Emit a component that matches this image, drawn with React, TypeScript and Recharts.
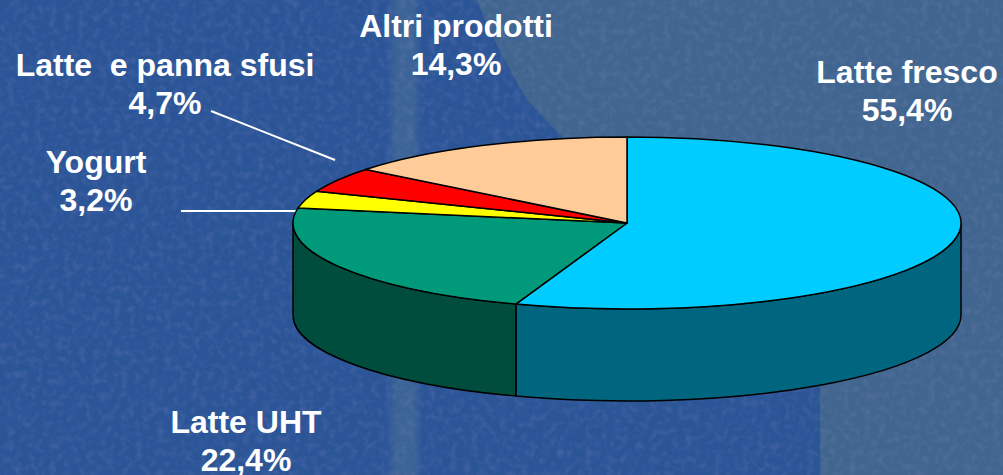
import React from 'react';
import { PieChart, Pie } from 'recharts';

const categories = ['Latte fresco', 'Latte UHT', 'Yogurt', 'Latte  e panna sfusi', 'Altri prodotti'];
const shares = [55.4, 22.4, 3.2, 4.7, 14.3];
const topColors = ['#00ccff', '#009a7b', '#ffff00', '#ff0000', '#ffcc99'];
const sideColors = ['#006680', '#004d3d', '#808000', '#800000', '#806650'];
const labelCenters = [
  [907, 83],
  [246, 433],
  [96, 173],
  [165, 76],
  [456, 37],
];

const data = categories.map((name, i) => ({ name, value: shares[i], top: topColors[i], side: sideColors[i] }));

const W = 1003;
const H = 475;
const CX = 627;
const CY = 223;
const RX = 334;
const SQUASH = 86 / 334; // pie is tilted, ry / rx
const DEPTH = 92;
const RAD = Math.PI / 180;

const px = (cx: number, r: number, deg: number) => cx + r * Math.cos(deg * RAD);
const py = (cy: number, r: number, deg: number) => cy - r * SQUASH * Math.sin(deg * RAD);

const TopSlice = (props: any) => {
  const { cx, cy, outerRadius: r, startAngle, endAngle, payload } = props;
  const large = Math.abs(endAngle - startAngle) > 180 ? 1 : 0;
  const d =
    `M${cx},${cy} L${px(cx, r, startAngle)},${py(cy, r, startAngle)} ` +
    `A${r},${r * SQUASH} 0 ${large} 1 ${px(cx, r, endAngle)},${py(cy, r, endAngle)} Z`;
  return <path d={d} fill={payload.top} stroke="#000" strokeWidth={1.5} strokeLinejoin="round" />;
};

// only the part of the rim facing the viewer (0 to -180 deg) is drawn
const SideSlice = (props: any) => {
  const { cx, cy, outerRadius: r, startAngle, endAngle, payload } = props;
  const from = Math.min(startAngle, 0);
  const to = Math.max(endAngle, -180);
  if (from <= to) return null;
  const x1 = px(cx, r, from);
  const y1 = py(cy, r, from);
  const x2 = px(cx, r, to);
  const y2 = py(cy, r, to);
  const ry = r * SQUASH;
  const d =
    `M${x1},${y1} A${r},${ry} 0 0 1 ${x2},${y2} L${x2},${y2 + DEPTH} ` +
    `A${r},${ry} 0 0 0 ${x1},${y1 + DEPTH} Z`;
  return <path d={d} fill={payload.side} stroke="#000" strokeWidth={1.5} strokeLinejoin="round" />;
};

const renderLabel = (props: any) => {
  const { index, value, name } = props;
  const [x, y] = labelCenters[index];
  return (
    <text
      key={name}
      x={x}
      y={y}
      textAnchor="middle"
      fill="#fff"
      fontFamily="'Liberation Sans', Arial, sans-serif"
      fontWeight={700}
      fontSize={32}
      style={{ whiteSpace: 'pre' }}
    >
      <tspan x={x}>{name}</tspan>
      <tspan x={x} dy={38}>{value.toFixed(1).replace('.', ',')}%</tspan>
    </text>
  );
};

const Backdrop = () => (
  <svg width={W} height={H} style={{ position: 'absolute', left: 0, top: 0 }}>
    <defs>
      <filter id="grain" x="0" y="0" width="100%" height="100%">
        <feTurbulence type="fractalNoise" baseFrequency="0.14" numOctaves={2} seed={4} />
        <feColorMatrix values="0 0 0 0 0.32  0 0 0 0 0.3  0 0 0 0 0.62  0 0 0 1.4 -0.6" />
      </filter>
      <linearGradient id="band" x1="0" x2="1" y1="0" y2="0">
        <stop offset="0" stopColor="#4a7096" stopOpacity={0} />
        <stop offset="0.3" stopColor="#4a7096" stopOpacity={0.55} />
        <stop offset="0.75" stopColor="#4a7096" stopOpacity={0.55} />
        <stop offset="1" stopColor="#4a7096" stopOpacity={0} />
      </linearGradient>
    </defs>
    <rect width={W} height={H} fill="#2b5597" />
    <path d="M477,0 C490,35 510,70 527,100 L565,140 L820,300 L820,475 L1003,475 L1003,0 Z" fill="#40658f" />
    <rect x={386} y={0} width={36} height={H} fill="url(#band)" />
    <rect width={W} height={H} filter="url(#grain)" opacity={0.3} />
  </svg>
);

export default function App() {
  return (
    <div style={{ position: 'absolute', left: 0, top: 0, width: W, height: H, overflow: 'hidden' }}>
      <Backdrop />
      <div style={{ position: 'absolute', left: 0, top: 0 }}>
        <PieChart width={W} height={H} margin={{ top: 0, right: 0, bottom: 0, left: 0 }}>
          <Pie
            data={data}
            dataKey="value"
            nameKey="name"
            cx={CX}
            cy={CY}
            outerRadius={RX}
            startAngle={90}
            endAngle={-270}
            shape={SideSlice}
            isAnimationActive={false}
            label={false}
          />
          <Pie
            data={data}
            dataKey="value"
            nameKey="name"
            cx={CX}
            cy={CY}
            outerRadius={RX}
            startAngle={90}
            endAngle={-270}
            shape={TopSlice}
            isAnimationActive={false}
            label={renderLabel}
            labelLine={false}
          />
          <line x1={211} y1={111} x2={335} y2={160} stroke="#fff" strokeWidth={2} />
          <line x1={181} y1={211} x2={302} y2={211} stroke="#fff" strokeWidth={2} />
        </PieChart>
      </div>
    </div>
  );
}
